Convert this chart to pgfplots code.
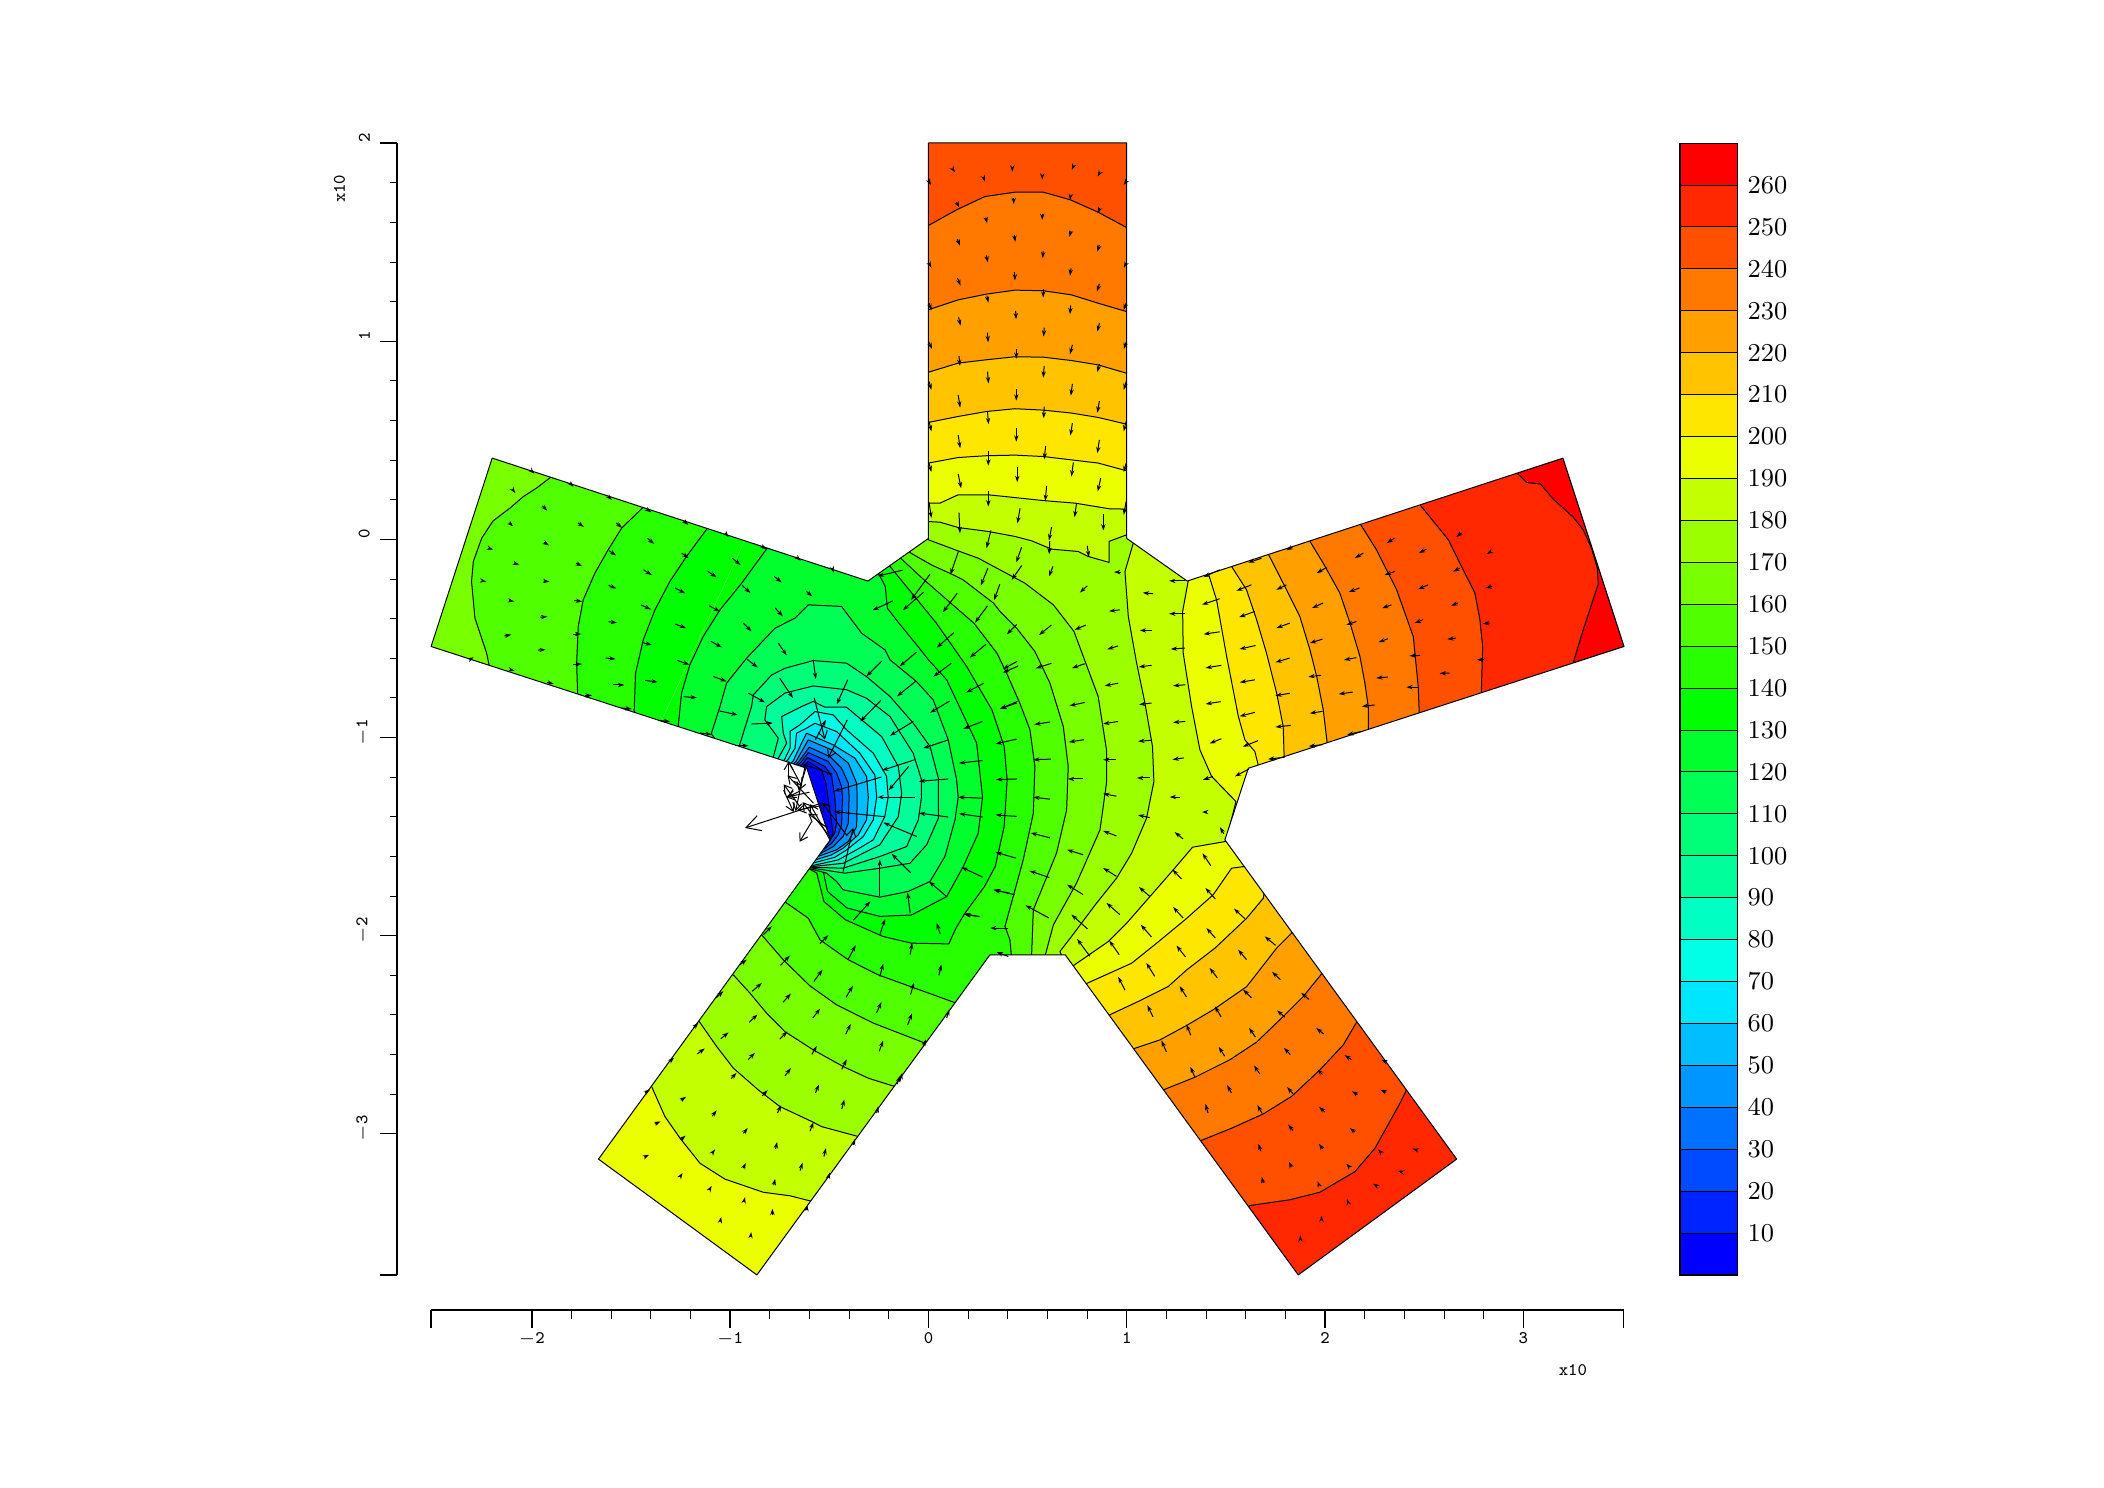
\documentclass[border=0pt]{standalone}
\usepackage{pgfplots}
\pgfplotsset{compat=1.18}
\usetikzlibrary{arrows.meta}
\definecolor{c0}{RGB}{0,0,255}\definecolor{c1}{RGB}{0,36,255}\definecolor{c2}{RGB}{0,75,255}
\definecolor{c3}{RGB}{0,112,255}\definecolor{c4}{RGB}{0,150,255}\definecolor{c5}{RGB}{0,190,255}
\definecolor{c6}{RGB}{0,230,255}\definecolor{c7}{RGB}{0,255,230}\definecolor{c8}{RGB}{0,255,195}
\definecolor{c9}{RGB}{0,255,155}\definecolor{c10}{RGB}{0,255,120}\definecolor{c11}{RGB}{0,255,85}
\definecolor{c12}{RGB}{0,255,45}\definecolor{c13}{RGB}{0,255,0}\definecolor{c14}{RGB}{40,255,0}
\definecolor{c15}{RGB}{80,255,0}\definecolor{c16}{RGB}{120,255,0}\definecolor{c17}{RGB}{155,255,0}
\definecolor{c18}{RGB}{195,255,0}\definecolor{c19}{RGB}{235,255,0}\definecolor{c20}{RGB}{255,230,0}
\definecolor{c21}{RGB}{255,195,0}\definecolor{c22}{RGB}{255,160,0}\definecolor{c23}{RGB}{255,120,0}
\definecolor{c24}{RGB}{255,80,0}\definecolor{c25}{RGB}{255,40,0}\definecolor{c26}{RGB}{255,0,0}
\pgfplotsset{band/.style={fill=#1,draw=black,line width=0.35pt,line join=round,no markers,forget plot}}
\begin{document}
\begin{tikzpicture}
\path (0,0) rectangle (736.4pt,520.8pt);
\begin{axis}[name=main,at={(144.5pt,68.6pt)},anchor=south west,scale only axis,width=430.3pt,height=409.5pt,
 xmin=-2.6,xmax=3.6,ymin=-3.8,ymax=2.1,axis lines=none,clip=true]
% whole star, above 260
\addplot[band=c26] coordinates {(0,1.995)(1,1.995)(1,0)(1.305,-.215)(3.2,.405)(3.508,-.545)(1.613,-1.159)(1.495,-1.52)(2.664,-3.13)(1.865,-3.714)(.69,-2.1)(.31,-2.1)(-.865,-3.714)(-1.664,-3.13)(-.495,-1.52)(-.613,-1.159)(-2.508,-.545)(-2.2,.405)(-.305,-.215)(0,0)(0,1.995)};
% below 260
\addplot[band=c25] coordinates {(2.969,.329)(3.017,.282)(3.087,.274)(3.151,.198)(3.252,.107)(3.302,.043)(3.344,-.049)(3.373,-.15)(3.378,-.229)(3.302,-.461)(3.252,-.626)(3.252,-3.76)(-2.55,-3.76)(-2.55,2.06)(2.969,2.06)(2.969,.329)};
% below 250
\addplot[band=c24] coordinates {(2.479,.169)(2.554,.077)(2.622,-.007)(2.68,-.125)(2.756,-.276)(2.781,-.41)(2.795,-.545)(2.788,-.784)(2.411,-2.781)(2.378,-2.848)(2.327,-2.94)(2.252,-3.075)(2.151,-3.193)(1.974,-3.297)(1.823,-3.335)(1.621,-3.364)(1.2,-3.76)(-2.55,-3.76)(-2.55,2.06)(2.479,2.06)(2.479,.169)};
% below 240
\addplot[band=c23] coordinates {(0,1.578)(.142,1.657)(.285,1.724)(.436,1.746)(.579,1.746)(.714,1.708)(.856,1.645)(.999,1.568)(2.18,.069)(2.26,-.058)(2.361,-.259)(2.445,-.495)(2.47,-.747)(2.475,-.878)(2.159,-2.44)(2.092,-2.554)(1.974,-2.68)(1.831,-2.814)(1.689,-2.902)(1.529,-2.974)(1.378,-3.035)(.6,-3.76)(-2.55,-3.76)(-2.55,1.578)(0,1.578)};
% below 230
\addplot[band=c22] coordinates {(0,1.153)(.15,1.203)(.293,1.232)(.436,1.252)(.579,1.249)(.722,1.228)(.856,1.186)(.999,1.144)(1.924,-.015)(1.991,-.125)(2.075,-.276)(2.126,-.427)(2.176,-.595)(2.201,-.73)(2.218,-.848)(2.218,-.965)(1.986,-2.192)(1.89,-2.31)(1.789,-2.411)(1.655,-2.54)(1.52,-2.629)(1.344,-2.717)(1.184,-2.781)(.6,-3.76)(-2.55,-3.76)(-2.55,1.153)(0,1.153)};
% below 220
\addplot[band=c21] coordinates {(0,.838)(.15,.884)(.293,.901)(.436,.916)(.579,.914)(.722,.897)(.856,.875)(.999,.833)(1.714,-.079)(1.789,-.226)(1.873,-.394)(1.924,-.562)(1.958,-.696)(1.991,-.864)(2.011,-1.032)(1.831,-1.991)(1.756,-2.066)(1.605,-2.26)(1.436,-2.377)(1.302,-2.456)(1.167,-2.529)(1.033,-2.574)(.5,-3.76)(-2.55,-3.76)(-2.55,.838)(0,.838)};
% below 210
\addplot[band=c20] coordinates {(0,.585)(.15,.615)(.293,.64)(.436,.654)(.579,.647)(.722,.632)(.856,.61)(.999,.576)(1.529,-.142)(1.604,-.259)(1.655,-.41)(1.705,-.579)(1.756,-.78)(1.789,-.948)(1.794,-1.103)(1.689,-1.814)(1.605,-1.915)(1.445,-2.066)(1.302,-2.176)(1.209,-2.26)(1.058,-2.335)(.915,-2.402)(.4,-3.76)(-2.55,-3.76)(-2.55,.585)(0,.585)};
% below 200
\addplot[band=c19] coordinates {(0,.38)(.15,.408)(.293,.417)(.436,.42)(.579,.413)(.722,.396)(.856,.38)(.999,.341)(1.411,-.175)(1.453,-.31)(1.504,-.596)(1.563,-.898)(1.596,-1.016)(1.646,-1.074)(1.663,-1.142)(1.596,-1.654)(1.529,-1.663)(1.436,-1.797)(1.294,-1.923)(1.151,-2.041)(1.025,-2.142)(.794,-2.246)(.3,-3.76)(-2.55,-3.76)(-2.55,.38)(0,.38)};
% below 190
\addplot[band=c18] coordinates {(0,.178)(.058,.178)(.15,.22)(.302,.22)(.588,.19)(.739,.178)(.915,.149)(.999,.148)(1.31,-.214)(1.282,-.368)(1.285,-.579)(1.327,-.847)(1.369,-1.066)(1.428,-1.2)(1.551,-1.327)(1.5,-1.528)(1.332,-1.557)(1.235,-1.671)(1.117,-1.806)(1.0,-1.94)(.907,-2.033)(.73,-2.155)(-.584,-3.344)(-.698,-3.315)(-.833,-3.297)(-1.026,-3.231)(-1.152,-3.151)(-1.253,-3.024)(-1.329,-2.915)(-1.396,-2.764)(-2.55,-2.5)(-2.55,.178)(0,.178)};
% below 180
\addplot[band=c17] coordinates {(0,.085)(.058,.082)(.15,.055)(.302,.035)(.436,.01)(.52,-.012)(.621,-.054)(.756,-.066)(.806,-.091)(.911,-.121)(.911,-.015)(.999,.018)(1.033,-.024)(.991,-.167)(1.008,-.394)(1.05,-.629)(1.092,-.831)(1.13,-1.049)(1.137,-1.226)(1.1,-1.411)(1.025,-1.587)(.949,-1.713)(.848,-1.839)(.722,-2.007)(.663,-2.083)(.68,-2.12)(-.354,-3.016)(-.539,-2.966)(-.589,-2.94)(-.749,-2.865)(-.858,-2.781)(-.984,-2.671)(-1.068,-2.562)(-1.156,-2.436)(-2.55,-2.2)(-2.55,.085)(0,.085)};
% below 170
\addplot[band=c16] coordinates {(0,-.007)(.15,-.063)(.252,-.1)(.36,-.158)(.487,-.226)(.63,-.335)(.734,-.469)(.856,-.797)(.898,-1.066)(.898,-1.234)(.865,-1.47)(.747,-1.738)(.63,-1.949)(.587,-2.11)(-.169,-2.764)(-.303,-2.722)(-.43,-2.663)(-.581,-2.579)(-.724,-2.487)(-.816,-2.394)(-.9,-2.293)(-.984,-2.201)(-2.55,-2.2)(-2.55,1)(-1,1)(0,-.007)};
% below 160
\addplot[band=c15] coordinates {(-.095,-.07)(-.068,-.086)(.016,-.134)(.117,-.18)(.175,-.209)(.328,-.326)(.361,-.368)(.445,-.453)(.537,-.57)(.613,-.73)(.68,-.948)(.705,-1.15)(.697,-1.369)(.646,-1.587)(.529,-1.873)(.52,-2.11)(-.018,-2.545)(-.278,-2.444)(-.463,-2.352)(-.598,-2.256)(-.732,-2.125)(-.841,-1.999)(-2.215,-.642)(-2.228,-.579)(-2.253,-.503)(-2.287,-.402)(-2.304,-.217)(-2.295,-.116)(-2.253,.001)(-2.195,.089)(-2.11,.153)(-2.043,.211)(-1.976,.254)(-1.904,.309)(-.095,-.07)};
% below 150
\addplot[band=c14] coordinates {(-.14,-.1)(-.032,-.2)(.094,-.31)(.229,-.427)(.346,-.579)(.394,-.679)(.461,-.831)(.512,-.965)(.537,-1.15)(.529,-1.386)(.478,-1.621)(.386,-1.957)(.411,-2.024)(.419,-2.11)(.142,-2.344)(-.068,-2.268)(-.253,-2.201)(-.404,-2.125)(-.547,-2.024)(-.606,-1.915)(-.715,-1.839)(-1.769,-.789)(-1.774,-.629)(-1.766,-.444)(-1.741,-.31)(-1.682,-.175)(-1.615,-.057)(-1.547,.052)(-1.438,.158)(-.14,-.1)};
% below 140
\addplot[band=c13] coordinates {(-.194,-.141)(-.077,-.284)(.04,-.427)(.193,-.646)(.32,-.864)(.382,-1.049)(.397,-1.217)(.382,-1.453)(.337,-1.654)(.283,-1.755)(.184,-1.89)(.139,-1.965)(.103,-2.044)(.067,-2.044)(-.086,-2.041)(-.23,-2.007)(-.419,-1.923)(-.527,-1.831)(-.563,-1.688)(-.6,-1.667)(-1.484,-.873)(-1.477,-.679)(-1.438,-.511)(-1.379,-.36)(-1.304,-.217)(-1.22,-.091)(-1.114,.052)(-.194,-.141)};
% below 130
\addplot[band=c12] coordinates {(-.25,-.18)(-.218,-.242)(-.207,-.352)(-.149,-.427)(-.059,-.537)(0,-.612)(.092,-.713)(.243,-1.032)(.273,-1.305)(.251,-1.487)(.176,-1.654)(.092,-1.806)(-.085,-1.899)(-.245,-1.906)(-.41,-1.864)(-.509,-1.78)(-.53,-1.68)(-.598,-1.665)(-1.262,-.948)(-1.245,-.78)(-1.203,-.637)(-1.136,-.495)(-1.051,-.36)(-.942,-.226)(-.813,-.049)(-.25,-.18)};
% below 120
\addplot[band=c11] coordinates {(-1.095,-.985)(-1.051,-.847)(-1.018,-.73)(-.917,-.604)(-.774,-.453)(-.673,-.402)(-.606,-.335)(-.438,-.343)(-.337,-.478)(-.219,-.562)(-.194,-.612)(-.06,-.722)(.024,-.814)(.1,-1.016)(.142,-1.217)(.15,-1.305)(.134,-1.419)(.083,-1.604)(.008,-1.73)(-.102,-1.78)(-.245,-1.809)(-.43,-1.772)(-.463,-1.73)(-.514,-1.688)(-.598,-1.665)(-1.095,-.985)};
% below 110
\addplot[band=c10] coordinates {(-.955,-1.05)(-.892,-.848)(-.883,-.789)(-.791,-.689)(-.724,-.655)(-.581,-.616)(-.413,-.629)(-.312,-.697)(-.194,-.797)(-.077,-.931)(.008,-1.049)(.05,-1.209)(.05,-1.411)(-.009,-1.545)(-.093,-1.638)(-.245,-1.663)(-.421,-1.688)(-.596,-1.661)(-.955,-1.05)};
% below 100
\addplot[band=c9] coordinates {(-.783,-1.105)(-.757,-1.007)(-.825,-.915)(-.816,-.848)(-.724,-.78)(-.581,-.744)(-.413,-.763)(-.312,-.806)(-.194,-.898)(-.077,-1.083)(-.035,-1.217)(-.035,-1.305)(-.051,-1.419)(-.11,-1.554)(-.245,-1.604)(-.43,-1.663)(-.594,-1.658)(-.95,-1.4)(-.783,-1.105)};
% below 90
\addplot[band=c8] coordinates {(-.757,-1.108)(-.715,-1.033)(-.732,-.982)(-.74,-.898)(-.64,-.848)(-.581,-.822)(-.522,-.851)(-.413,-.851)(-.337,-.915)(-.236,-.999)(-.152,-1.15)(-.135,-1.285)(-.152,-1.403)(-.245,-1.545)(-.362,-1.604)(-.43,-1.638)(-.587,-1.655)(-.95,-1.4)(-.757,-1.108)};
% below 80
\addplot[band=c7] coordinates {(-.724,-1.112)(-.698,-1.058)(-.698,-.973)(-.648,-.94)(-.572,-.873)(-.48,-.89)(-.413,-.965)(-.278,-1.083)(-.211,-1.2)(-.203,-1.305)(-.22,-1.402)(-.278,-1.52)(-.362,-1.57)(-.455,-1.621)(-.581,-1.649)(-.95,-1.4)(-.724,-1.112)};
% below 70
\addplot[band=c6] coordinates {(-.707,-1.113)(-.673,-1.058)(-.665,-.982)(-.615,-.957)(-.572,-.932)(-.463,-.974)(-.346,-1.083)(-.27,-1.193)(-.261,-1.305)(-.278,-1.419)(-.329,-1.504)(-.413,-1.571)(-.472,-1.608)(-.574,-1.635)(-.95,-1.4)(-.707,-1.113)};
% below 60
\addplot[band=c5] coordinates {(-.682,-1.122)(-.64,-1.033)(-.615,-.982)(-.48,-1.041)(-.371,-1.108)(-.312,-1.2)(-.303,-1.305)(-.312,-1.419)(-.354,-1.495)(-.43,-1.562)(-.489,-1.596)(-.564,-1.619)(-.95,-1.4)(-.682,-1.122)};
% below 50
\addplot[band=c4] coordinates {(-.668,-1.125)(-.606,-1.016)(-.488,-1.066)(-.404,-1.133)(-.362,-1.234)(-.359,-1.305)(-.362,-1.453)(-.404,-1.528)(-.463,-1.57)(-.552,-1.602)(-.95,-1.4)(-.668,-1.125)};
% below 40
\addplot[band=c3] coordinates {(-.656,-1.128)(-.601,-1.053)(-.497,-1.1)(-.438,-1.159)(-.404,-1.234)(-.4,-1.305)(-.404,-1.436)(-.43,-1.503)(-.48,-1.554)(-.542,-1.587)(-.95,-1.4)(-.656,-1.128)};
% below 30
\addplot[band=c2] coordinates {(-.645,-1.131)(-.606,-1.08)(-.505,-1.125)(-.463,-1.184)(-.438,-1.251)(-.433,-1.305)(-.438,-1.444)(-.455,-1.495)(-.488,-1.537)(-.531,-1.57)(-.95,-1.4)(-.645,-1.131)};
% below 20
\addplot[band=c1] coordinates {(-.635,-1.137)(-.61,-1.105)(-.522,-1.15)(-.488,-1.2)(-.472,-1.305)(-.463,-1.436)(-.472,-1.486)(-.519,-1.554)(-.95,-1.4)(-.635,-1.137)};
% below 10
\addplot[band=c0] coordinates {(-.623,-1.143)(-.606,-1.125)(-.539,-1.167)(-.517,-1.234)(-.505,-1.318)(-.488,-1.436)(-.48,-1.486)(-.505,-1.533)(-.95,-1.4)(-.623,-1.143)};
% everything outside the star is blanked
\addplot[fill=white,draw=none,even odd rule,no markers,forget plot] coordinates {(-3,-4.5)(4.5,-4.5)(4.5,2.6)(-3,2.6)(-3,-4.5)(0,1.995)(1,1.995)(1,0)(1.305,-.215)(3.2,.405)(3.508,-.545)(1.613,-1.159)(1.495,-1.52)(2.664,-3.13)(1.865,-3.714)(.69,-2.1)(.31,-2.1)(-.865,-3.714)(-1.664,-3.13)(-.495,-1.52)(-.613,-1.159)(-2.508,-.545)(-2.2,.405)(-.305,-.215)(0,0)(0,1.995)(-3,-4.5)};
\addplot[draw=black,line width=0.35pt,line join=round,no markers,forget plot] coordinates {(0,1.995)(1,1.995)(1,0)(1.305,-.215)(3.2,.405)(3.508,-.545)(1.613,-1.159)(1.495,-1.52)(2.664,-3.13)(1.865,-3.714)(.69,-2.1)(.31,-2.1)(-.865,-3.714)(-1.664,-3.13)(-.495,-1.52)(-.613,-1.159)(-2.508,-.545)(-2.2,.405)(-.305,-.215)(0,0)(0,1.995)};
% flux arrows
\addplot[forget plot,no markers,line width=0.35pt,quiver={u=\thisrow{u},v=\thisrow{v},every arrow/.append style={-{Stealth[length=2.2pt,width=1.5pt]}}}] table {
x y u v
.122 1.864 .012 -.017
.277 1.822 .008 -.022
.423 1.872 0 -.022
.574 1.83 0 -.02
.731 1.877 -.008 -.018
.865 1.845 -.012 -.02
.142 1.695 .013 -.027
.43 1.715 0 -.029
.574 1.636 0 -.03
.717 1.728 -.003 -.022
.865 1.665 -.012 -.025
.289 1.618 .007 -.029
.433 1.53 .005 -.034
.146 1.51 .013 -.034
.719 1.55 -.008 -.029
.862 1.48 -.01 -.034
.292 1.427 .008 -.035
.579 1.447 -.003 -.034
.147 1.312 .015 -.037
.436 1.341 0 -.04
.719 1.362 -.005 -.037
.862 1.284 -.012 -.039
.295 1.224 .007 -.035
.579 1.259 0 -.044
.152 1.115 .01 -.042
.44 1.147 .002 -.042
.717 1.175 -.003 -.044
.862 1.085 -.01 -.042
.298 1.038 .003 -.049
.584 1.063 -.003 -.045
.726 .976 -.012 -.047
.443 .956 0 -.05
.154 .92 .005 -.05
.862 .879 -.01 -.04
.298 .841 .005 -.059
.584 .87 -.005 -.059
.15 .724 .01 -.064
.443 .754 0 -.059
.726 .779 -.008 -.059
.862 .693 -.01 -.059
.298 .64 .005 -.064
.584 .665 -.003 -.059
.15 .522 .01 -.067
.443 .559 0 -.071
.726 .581 -.01 -.062
.862 .497 -.01 -.067
.302 .441 0 -.074
.591 .466 -.007 -.067
.15 .325 .015 -.072
.448 .358 0 -.074
.731 .383 -.01 -.071
.869 .304 -.015 -.067
.302 .24 0 -.079
.596 .265 -.007 -.076
.154 .13 .005 -.104
.462 .152 -.013 -.076
.747 .178 -.01 -.071
.882 .124 0 -.084
.315 .04 -.022 -.089
.621 .057 -.013 -.067
.47 -.044 -.027 -.077
.801 -.037 .008 -.057
.003 1.8 .01 -.017
.003 1.387 .012 -.022
.003 1.186 .013 -.034
.003 .99 .015 -.035
.003 .791 .012 -.042
.003 .59 .012 -.05
.003 .38 .012 -.045
.003 .183 .012 -.08
.997 1.8 -.012 -.017
.997 1.387 -.012 -.022
.997 1.186 -.013 -.034
.997 .99 -.012 -.035
.997 .791 -.012 -.042
.997 .59 -.012 -.05
.997 .38 -.012 -.045
.997 .186 -.012 -.067
2.193 -.074 -.042 -.025
2.35 .001 -.039 -.025
2.687 .027 -.025 -.02
2.008 -.146 -.05 -.029
2.351 -.167 -.05 -.017
2.511 -.054 -.037 -.02
2.68 -.15 -.034 -.017
2.174 -.25 -.054 -.02
2.52 -.234 -.05 -.022
2.335 -.335 -.047 -.017
2.838 -.066 -.022 -.012
2.843 -.242 -.034 -.008
1.805 -.234 -.05 -.025
1.629 -.234 -.076 -.03
1.99 -.326 -.055 -.025
2.67 -.326 -.034 -.013
2.494 -.41 -.042 -.017
2.158 -.419 -.05 -.017
1.646 -.368 -.079 -.029
1.822 -.427 -.067 -.025
1.469 -.304 -.089 -.03
2.83 -.427 -.034 -.003
1.987 -.508 -.064 -.02
2.317 -.506 -.047 -.017
2.659 -.503 -.042 -.005
1.469 -.471 -.081 -.012
2.158 -.601 -.062 -.012
1.822 -.603 -.072 -.022
1.65 -.54 -.081 -.018
2.48 -.59 -.054 -.002
2.8 -.612 -.034 0
1.477 -.64 -.079 -.013
1.646 -.713 -.076 -.013
1.98 -.69 -.064 -.008
2.317 -.699 -.059 -.005
2.628 -.679 -.05 -.002
1.822 -.781 -.072 -.012
1.474 -.823 -.076 -.012
2.469 -.75 -.059 0
2.14 -.775 -.071 -.01
1.646 -.877 -.076 -.02
1.987 -.872 -.064 -.01
2.25 -.84 -.064 -.007
1.827 -.943 -.077 -.008
1.477 -1.01 -.059 -.024
1.662 -1.02 -.076 -.03
1.99 -1.04 -.072 -.008
2.184 -.973 -.072 -.017
1.797 -1.103 -.084 -.01
1.84 -.04 -.034 -.02
1.68 -.1 -.067 -.022
1.469 -.158 -.081 -.037
1.293 -.214 -.079 0
1.293 -.38 -.079 0
1.293 -.553 -.071 -.005
1.296 -.738 -.062 -.005
1.296 -.923 -.062 -.005
1.288 -1.107 -.057 -.008
1.133 -.279 -.052 .005
1.125 -.464 -.059 0
1.125 -.64 -.064 -.008
1.125 -.83 -.062 -.008
1.125 -1.018 -.067 -.005
1.116 -1.208 -.064 0
1.267 -1.304 -.05 0
1.402 -1.38 -.022 0
1.116 -1.408 -.059 .013
1.284 -1.515 -.042 .034
1.435 -1.2 -.05 -.017
1.615 -1.163 -.069 -.037
1.49 -1.49 -.02 .034
.965 -.36 -.054 -.007
.957 -.542 -.055 -.017
.957 -.73 -.067 -.013
.957 -.923 -.076 -.012
.948 -1.116 -.067 0
.948 -1.3 -.067 .013
.948 -1.5 -.067 .025
.78 -1.595 -.081 .025
.97 -.17 -.034 0
.801 -.239 -.037 -.034
.628 -.141 -.02 -.05
.612 -.013 -.003 -.067
.36 -.231 -.029 -.08
.47 -.137 -.05 -.072
.793 -.437 -.055 -.024
.788 -.632 -.064 -.022
.788 -.827 -.076 -.017
.784 -1.015 -.076 -.012
.78 -1.213 -.076 0
.613 -.926 -.079 -.012
.617 -1.113 -.089 -.003
.613 -1.315 -.084 .01
.613 -1.51 -.097 .025
.61 -1.71 -.101 .034
.608 -1.914 -.119 .064
.62 -.437 -.062 -.05
.62 -.63 -.079 -.025
.445 -.434 -.05 -.05
.447 -.62 -.071 -.039
.445 -.83 -.084 -.029
1.424 -1.65 -.042 .062
.78 -1.796 -.081 .05
.802 -1.969 -.081 .072
.814 -2.107 -.064 .087
.965 -1.897 -.067 .059
.948 -1.704 -.067 .042
1.116 -1.805 -.054 .047
.962 -2.099 -.05 .071
1.125 -2.01 -.054 .062
1.276 -1.717 -.045 .047
1.284 -1.914 -.05 .055
1.447 -1.818 -.05 .055
1.595 -1.917 -.054 .05
1.447 -2.015 -.045 .05
1.296 -2.11 -.045 .057
1.141 -2.208 -.042 .067
.991 -2.278 -.034 .067
1.751 -2.052 -.055 .045
1.604 -2.124 -.042 .05
1.457 -2.216 -.039 .05
1.301 -2.312 -.034 .054
1.133 -2.413 -.029 .059
1.775 -2.225 -.042 .039
1.629 -2.317 -.042 .042
1.476 -2.413 -.032 .054
1.323 -2.505 -.022 .054
1.2 -2.589 -.025 .057
1.919 -2.325 -.039 .034
1.797 -2.414 -.039 .034
1.649 -2.515 -.032 .047
1.494 -2.611 -.03 .047
1.343 -2.715 -.022 .05
1.993 -2.499 -.037 .03
1.825 -2.603 -.032 .034
1.671 -2.7 -.029 .042
1.528 -2.796 -.022 .039
1.41 -2.897 -.013 .045
2.133 -2.628 -.034 .022
1.987 -2.703 -.025 .025
1.839 -2.801 -.03 .034
1.683 -2.9 -.024 .042
2.309 -2.64 -.025 .012
2.163 -2.805 -.027 .017
1.999 -2.892 -.029 .025
1.839 -2.986 -.025 .03
1.676 -3.09 -.012 .037
2.309 -2.793 -.03 .013
2.15 -2.993 -.025 .02
1.987 -3.078 -.017 .025
1.83 -3.169 -.012 .025
1.688 -3.25 -.007 .03
2.466 -3.085 -.025 .008
2.124 -3.171 -.017 .018
1.97 -3.262 -.008 .02
2.284 -3.098 -.017 .017
2.385 -3.194 -.017 .005
2.256 -3.262 -.013 .008
2.116 -3.348 -.005 .017
1.982 -3.439 0 .024
1.876 -3.54 0 .025
-.379 -1.926 .086 .096
-.245 -1.998 .027 .079
-.092 -1.89 -.013 .104
.059 -1.994 -.017 .054
-.547 -2.043 .042 .042
-.404 -2.121 .037 .069
-.092 -2.099 .01 .059
-.245 -2.209 .017 .064
-.746 -2.153 .047 .049
-.578 -2.234 .044 .059
-.415 -2.313 .034 .057
-.09 -2.3 .017 .059
.053 -2.203 .012 .054
-.889 -2.284 .049 .042
-.733 -2.339 .039 .044
-.583 -2.418 .037 .047
-.262 -2.393 .025 .055
-.105 -2.454 .022 .059
-.904 -2.44 .042 .039
-1.047 -2.523 .039 .032
-.909 -2.628 .034 .034
-.75 -2.525 .039 .039
-.417 -2.5 .025 .052
-.588 -2.602 .025 .042
-.248 -2.586 .02 .054
-1.165 -2.599 .037 .027
-.723 -2.71 .029 .039
-.437 -2.677 .025 .05
-.995 -2.724 .027 .029
-.57 -2.796 .018 .042
-.158 -2.752 .015 .042
-.838 -2.811 .027 .029
-.437 -2.877 .013 .047
-1.249 -2.833 .027 .017
-1.09 -2.913 .022 .029
-.761 -2.897 .018 .039
-.597 -2.989 .017 .045
-.933 -3.0 .022 .027
-1.38 -2.953 .029 .013
-1.249 -3.032 .024 .02
-1.091 -3.101 .015 .02
-.771 -3.079 .008 .035
-.527 -3.117 .01 .042
-.933 -3.175 .012 .025
-.647 -3.188 .012 .04
-.78 -3.262 .007 .032
-1.253 -3.22 .013 .02
-1.433 -3.12 .024 .012
-1.105 -3.285 .012 .02
-.93 -3.344 .005 .022
-.787 -3.414 0 .034
-1.05 -3.444 .005 .022
-.896 -3.518 .002 .02
-.832 -1.998 .042 .042
-.95 -2.149 .034 .025
-1.071 -2.317 .037 .034
-1.185 -2.468 .025 .025
-1.303 -2.636 .02 .017
-1.429 -2.796 .025 .017
.092 -2.418 .013 .042
-.026 -2.561 .013 .034
-.144 -2.738 .012 .042
-.261 -2.898 .008 .034
-.379 -3.058 .008 .029
-.505 -3.223 .008 .025
-.614 -3.387 .003 .025
-2.0 .339 .013 -.012
-1.807 .278 .017 -.017
-1.614 .211 .017 -.017
-1.42 .147 .022 -.015
-1.236 .09 .025 -.022
-1.025 .027 .017 -.02
-.841 -.04 .025 -.013
-.665 -.094 .022 -.018
-.485 -.15 .007 -.022
-2.311 -.609 .017 .01
-2.109 -.662 .022 -.005
-1.924 -.726 .034 -.007
-1.731 -.793 .034 .002
-1.546 -.855 .05 -.005
-1.362 -.918 .059 -.005
-1.152 -.981 .059 -.008
-.975 -1.045 .067 0
-2.097 .247 .013 -.018
-1.946 .164 .024 -.024
-2.114 .078 .02 -.017
-1.767 .078 .029 -.02
-1.574 .078 .029 -.025
-2.214 -.05 .018 -.007
-1.938 -.02 .024 -.015
-1.61 -.062 .035 -.024
-1.417 0 .034 -.027
-1.244 -.074 .034 -.025
-.989 -.1 .042 -.034
-2.089 -.125 .025 -.007
-1.777 -.125 .03 -.015
-1.437 -.158 .042 -.027
-1.113 -.166 .045 -.03
-.777 -.192 .037 -.03
-.615 -.267 .029 -.025
-2.243 -.215 .013 -.002
-1.941 -.215 .029 -.003
-1.613 -.237 .039 -.015
-1.277 -.25 .05 -.027
-.939 -.237 .042 -.039
-2.114 -.313 .025 -.005
-1.786 -.313 .04 -.005
-1.449 -.336 .05 -.022
-1.105 -.34 .054 -.029
-.773 -.351 .039 -.042
-1.957 -.397 .035 .002
-1.613 -.42 .042 -.005
-1.277 -.432 .055 -.02
-.934 -.427 .042 -.042
-2.138 -.492 .034 .007
-1.79 -.482 .039 0
-1.445 -.525 .05 -.012
-1.097 -.519 .055 -.03
-.757 -.528 .042 -.062
-1.97 -.563 .039 .002
-1.628 -.603 .05 -.005
-1.266 -.615 .06 -.022
-.915 -.609 .054 -.042
-1.792 -.634 .045 0
-1.591 -.739 .057 0
-1.429 -.716 .064 -.008
-1.085 -.696 .067 -.025
-.75 -.705 .067 -.1
-1.235 -.798 .067 -.005
-.908 -.78 .084 -.047
-1.054 -.87 .092 -.02
-.893 -.936 .108 .005
-.13 -.16 -.126 -.03
-.18 -.315 -.101 -.047
-.025 -.272 -.104 -.09
.007 -.182 -.094 -.128
.145 -.277 -.072 -.095
.151 -.066 -.04 -.116
.3 -.15 -.036 -.087
.128 -.475 -.086 -.076
-.06 -.573 -.085 -.072
.298 -.34 -.063 -.085
.29 -.534 -.081 -.067
.115 -.63 -.09 -.067
-.064 -.72 -.094 -.076
.28 -.73 -.09 -.047
.107 -.82 -.099 -.059
.403 -1.965 -.092 0
.249 -1.906 -.072 .012
.411 -1.789 -.084 .017
.403 -2.108 -.059 .022
-.581 -.612 .013 -.097
-.407 -.713 -.055 -.123
-.237 -.62 -.076 -.076
-.24 -.817 -.104 -.106
-.076 -.923 -.118 -.072
.449 -.822 -.087 -.037
.453 -.643 -.076 -.034
.273 -.923 -.097 -.037
.1 -1.016 -.126 -.042
-.069 -1.116 -.165 -.054
-.237 -1.203 -.239 -.072
-.069 -1.305 -.188 0
.1 -1.213 -.148 -.012
.273 -1.12 -.118 -.013
.445 -1.012 -.106 -.024
.447 -1.213 -.106 -.003
.273 -1.31 -.123 .005
.273 -1.405 -.118 .017
.1 -1.405 -.148 .02
-.059 -1.503 -.168 .07
-.224 -1.403 -.252 .025
.445 -1.402 -.106 .008
.44 -1.612 -.101 .03
.435 -1.797 -.104 .025
.273 -1.708 -.106 .05
.092 -1.806 -.089 .076
-.089 -1.687 -.097 .097
-.245 -1.805 0 .185
.258 -1.907 -.076 .013
-.57 -1.015 .053 .1
-.1 -1.15 -.1 -.12
-.63 -1.14 .148 -.05
};
% the disorderly arrows at the re-entrant corner
\addplot[forget plot,no markers,line width=0.35pt,quiver={u=\thisrow{u},v=\thisrow{v},every arrow/.append style={-{Straight Barb[length=2.6pt,width=3.2pt]}}}] table {
x y u v
-.576 -.804 .054 -.21
-.409 -.915 -.097 -.193
-.705 -1.212 0 .087
-.705 -1.125 .067 -.126
-.614 -1.147 -.04 -.126
-.62 -1.14 -.05 -.235
-.5 -1.34 -.16 -.03
-.6 -1.28 -.118 -.025
-.65 -1.275 -.06 -.03
-.41 -1.5 -.126 .168
-.51 -1.46 -.096 .072
-.497 -1.52 -.1 .18
-.58 -1.335 -.13 .14
-.5 -1.5 -.135 .17
-.65 -1.35 -.08 .11
-.73 -1.27 .05 -.11
-.59 -1.43 -.06 -.1
-.43 -1.68 .05 .22
};
\addplot[forget plot,no markers,line width=0.35pt,quiver={u=\thisrow{u},v=\thisrow{v},every arrow/.append style={-{Straight Barb[length=5pt,width=5.5pt]}}}] table {
x y u v
-.54 -1.335 -.385 -.125
};
\end{axis}
% x axis
\begin{axis}[at={(150.85pt,62.3pt)},anchor=south west,scale only axis,width=417.4pt,height=0.7pt,
 xmin=-2.509,xmax=3.506,ymin=0,ymax=1,axis x line*=bottom,axis y line=none,tick align=outside,
 xtick={-2,-1,0,1,2,3},xticklabels={{$-$2},{$-$1},0,1,2,3},
 extra x ticks={-2.509,3.506},extra x tick labels={,},
 minor x tick num=4,major tick length=6.3pt,minor tick length=3.1pt,
 every major tick/.append style={line width=0.5pt,black},every minor tick/.append style={line width=0.3pt,black},
 x axis line style={line width=0.5pt},
 xticklabel style={font=\ttfamily\fontsize{6.2}{6.5}\selectfont,yshift=1.8pt}]
\end{axis}
% y axis
\begin{axis}[at={(138.95pt,74.55pt)},anchor=south west,scale only axis,width=0.7pt,height=396.15pt,
 ymin=-3.713,ymax=2,xmin=0,xmax=1,axis y line*=left,axis x line=none,tick align=outside,
 ytick={-3,-2,-1,0,1,2},yticklabels={{$-$3},{$-$2},{$-$1},0,1,2},
 extra y ticks={-3.713},extra y tick labels={},
 minor y tick num=4,major tick length=6pt,minor tick length=2.5pt,
 every major tick/.append style={line width=0.5pt,black},every minor tick/.append style={line width=0.3pt,black},
 y axis line style={line width=0.5pt},
 yticklabel style={font=\ttfamily\fontsize{6.2}{6.5}\selectfont,rotate=90,anchor=south,xshift=1.9pt}]
\end{axis}
% colour bar
\begin{axis}[at={(588pt,74.55pt)},anchor=south west,scale only axis,width=19.95pt,height=396.15pt,
 xmin=0,xmax=1,ymin=0,ymax=270,xtick=\empty,ytick={10,20,...,260},ymajorticks=true,
 tick style={draw=none},major tick length=0pt,yticklabel pos=right,
 yticklabel style={anchor=west,font=\fontsize{9.5}{11}\selectfont,xshift=0.2pt},
 axis line style={line width=0.4pt},clip=false]
\addplot[band=c0] coordinates {(0,0)(1,0)(1,10)(0,10)(0,0)};
\addplot[band=c1] coordinates {(0,10)(1,10)(1,20)(0,20)(0,10)};
\addplot[band=c2] coordinates {(0,20)(1,20)(1,30)(0,30)(0,20)};
\addplot[band=c3] coordinates {(0,30)(1,30)(1,40)(0,40)(0,30)};
\addplot[band=c4] coordinates {(0,40)(1,40)(1,50)(0,50)(0,40)};
\addplot[band=c5] coordinates {(0,50)(1,50)(1,60)(0,60)(0,50)};
\addplot[band=c6] coordinates {(0,60)(1,60)(1,70)(0,70)(0,60)};
\addplot[band=c7] coordinates {(0,70)(1,70)(1,80)(0,80)(0,70)};
\addplot[band=c8] coordinates {(0,80)(1,80)(1,90)(0,90)(0,80)};
\addplot[band=c9] coordinates {(0,90)(1,90)(1,100)(0,100)(0,90)};
\addplot[band=c10] coordinates {(0,100)(1,100)(1,110)(0,110)(0,100)};
\addplot[band=c11] coordinates {(0,110)(1,110)(1,120)(0,120)(0,110)};
\addplot[band=c12] coordinates {(0,120)(1,120)(1,130)(0,130)(0,120)};
\addplot[band=c13] coordinates {(0,130)(1,130)(1,140)(0,140)(0,130)};
\addplot[band=c14] coordinates {(0,140)(1,140)(1,150)(0,150)(0,140)};
\addplot[band=c15] coordinates {(0,150)(1,150)(1,160)(0,160)(0,150)};
\addplot[band=c16] coordinates {(0,160)(1,160)(1,170)(0,170)(0,160)};
\addplot[band=c17] coordinates {(0,170)(1,170)(1,180)(0,180)(0,170)};
\addplot[band=c18] coordinates {(0,180)(1,180)(1,190)(0,190)(0,180)};
\addplot[band=c19] coordinates {(0,190)(1,190)(1,200)(0,200)(0,190)};
\addplot[band=c20] coordinates {(0,200)(1,200)(1,210)(0,210)(0,200)};
\addplot[band=c21] coordinates {(0,210)(1,210)(1,220)(0,220)(0,210)};
\addplot[band=c22] coordinates {(0,220)(1,220)(1,230)(0,230)(0,220)};
\addplot[band=c23] coordinates {(0,230)(1,230)(1,240)(0,240)(0,230)};
\addplot[band=c24] coordinates {(0,240)(1,240)(1,250)(0,250)(0,240)};
\addplot[band=c25] coordinates {(0,250)(1,250)(1,260)(0,260)(0,250)};
\addplot[band=c26] coordinates {(0,260)(1,260)(1,270)(0,270)(0,260)};
\end{axis}
\node[font=\ttfamily\fontsize{6.2}{6.5}\selectfont,inner sep=0pt] at (550.5pt,41.4pt) {x10};
\node[font=\ttfamily\fontsize{6.2}{6.5}\selectfont,inner sep=0pt,rotate=90] at (118.8pt,454.7pt) {x10};
\end{tikzpicture}
\end{document}
